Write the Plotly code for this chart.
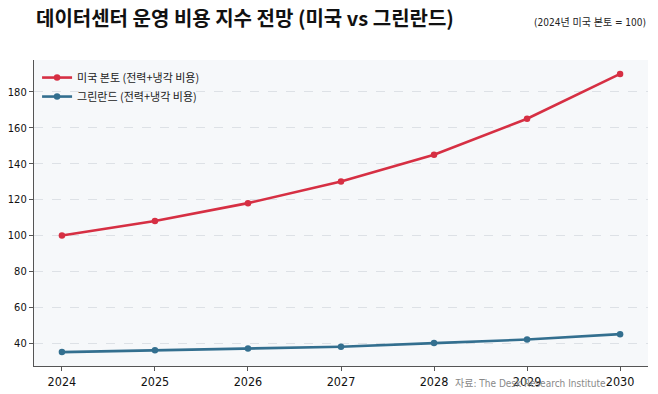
import plotly.graph_objects as go

years = [2024, 2025, 2026, 2027, 2028, 2029, 2030]
us_values = [100, 108, 118, 130, 145, 165, 190]
greenland_values = [35, 36, 37, 38, 40, 42, 45]
series_names = ["미국 본토 (전력+냉각 비용)", "그린란드 (전력+냉각 비용)"]
y_ticks = [40, 60, 80, 100, 120, 140, 160, 180]

RED = "#d62f43"
BLUE = "#336f8f"
FONT_K = "Noto Sans CJK KR"
FONT_N = "DejaVu Sans Condensed, Roboto, Noto Sans CJK KR"

fig = go.Figure()
fig.add_trace(go.Scatter(x=years, y=us_values, mode="lines+markers", name=series_names[0],
                         line=dict(color=RED, width=2.6), marker=dict(size=6.5, color=RED)))
fig.add_trace(go.Scatter(x=years, y=greenland_values, mode="lines+markers", name=series_names[1],
                         line=dict(color=BLUE, width=2.6), marker=dict(size=6.5, color=BLUE)))

fig.update_layout(
    width=658, height=394,
    margin=dict(l=34, r=10, t=60, b=28),
    paper_bgcolor="white", plot_bgcolor="#f6f8fa",
    font=dict(family=FONT_N, color="#222"),
    showlegend=True,
    legend=dict(x=0.005, y=0.99, xanchor="left", yanchor="top", bgcolor="rgba(0,0,0,0)",
                font=dict(family=FONT_K, size=11, color="#222"), tracegroupgap=0,
                itemwidth=30),
    xaxis=dict(range=[2023.7, 2030.3], tickmode="array", tickvals=years,
               ticktext=[str(y) for y in years], showgrid=False, zeroline=False,
               showline=True, linecolor="#555", linewidth=1.2, ticks="outside",
               ticklen=4, tickcolor="#555", automargin=False,
               tickfont=dict(size=12.5, family=FONT_N, color="#111")),
    yaxis=dict(range=[27.25, 197.75], tickmode="array", tickvals=y_ticks,
               showgrid=True, gridcolor="#dde1e6", griddash="dash", gridwidth=1,
               zeroline=False, showline=True, linecolor="#555", linewidth=1.2,
               ticks="outside", ticklen=4, tickcolor="#555", automargin=False,
               tickfont=dict(size=11, family=FONT_N, color="#111")),
    annotations=[
        dict(text="<b>데이터센터 운영 비용 지수 전망 (미국 vs 그린란드)</b>", xref="paper", yref="paper",
             x=0, y=1, xshift=0, yshift=43, xanchor="left", yanchor="middle", showarrow=False,
             font=dict(family=FONT_K, size=20, color="#111")),
        dict(text="(2024년 미국 본토 = 100)", xref="paper", yref="paper",
             x=1, y=1, yshift=38, xanchor="right", yanchor="middle", showarrow=False,
             font=dict(family=FONT_N, size=10, color="#222")),
        dict(text="자료: The Desk Research Institute", xref="paper", yref="paper",
             x=0.935, y=0, yshift=-17, xanchor="right", yanchor="middle", showarrow=False,
             font=dict(family=FONT_N, size=10, color="#888")),
    ],
)

fig.write_html("out.html", config={"displayModeBar": False},
               post_script="document.body.style.margin='0';document.body.style.padding='0';")
